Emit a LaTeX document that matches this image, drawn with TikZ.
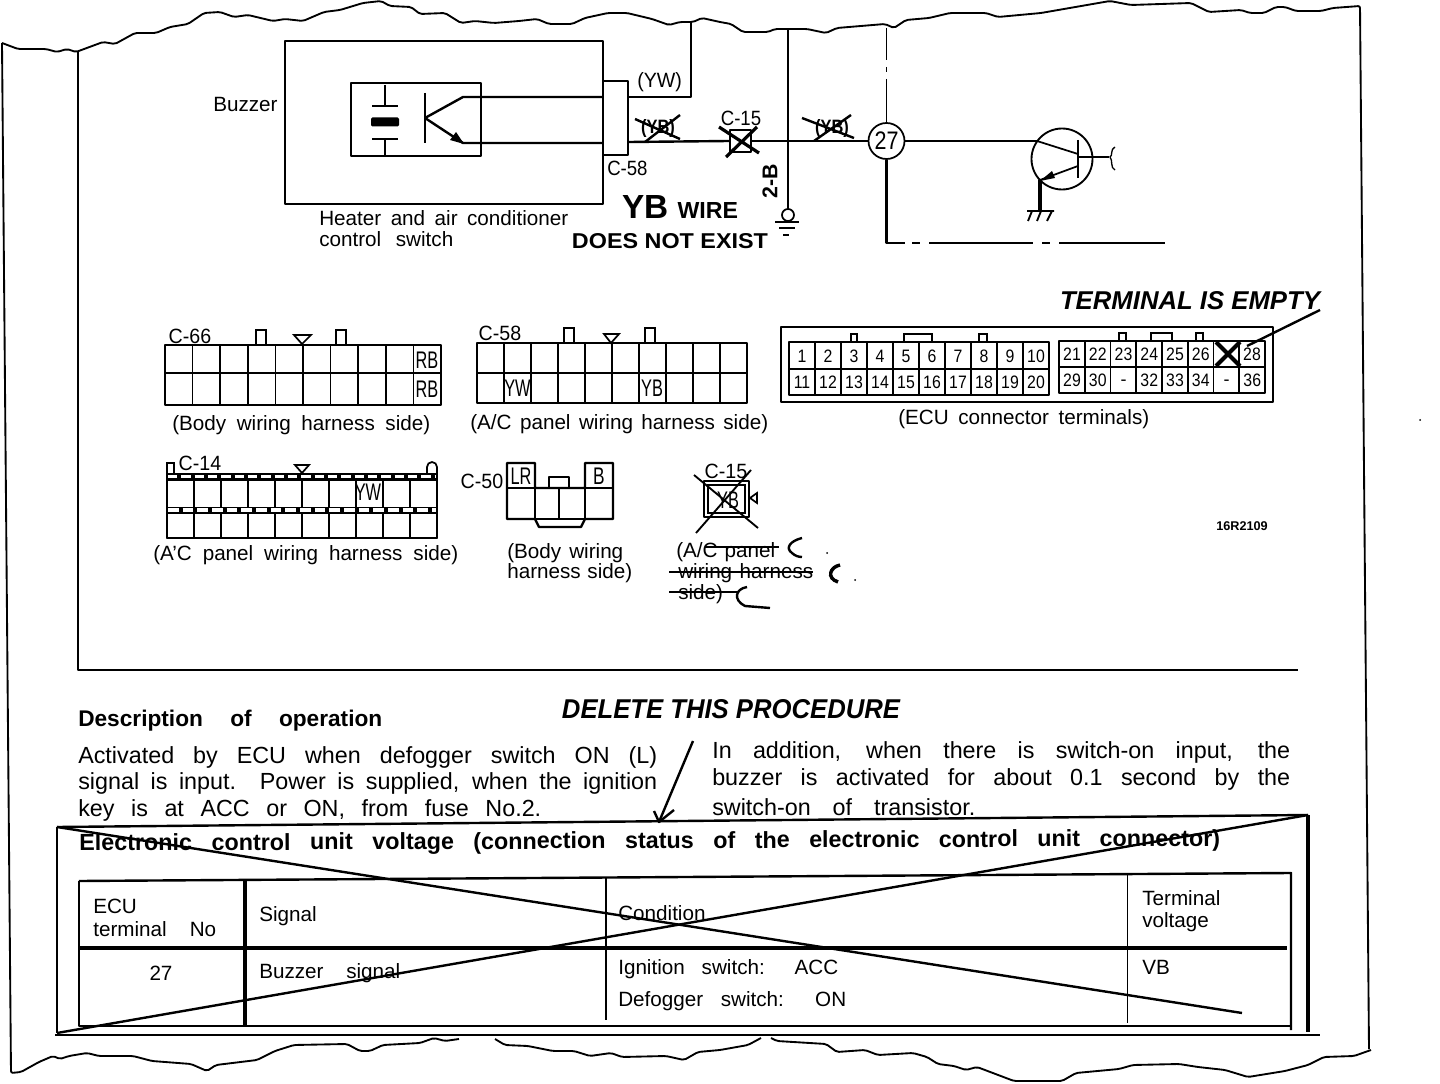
\documentclass[tikz,border=0pt]{standalone}
\usepackage{fontspec}
\usepackage{graphicx}
\setmainfont{Liberation Sans}
\newlength\pxu \setlength\pxu{.75pt}
\newcommand\fw[2]{\makebox[#1\pxu][s]{#2}}
\newcommand\hw[3]{\resizebox{#1\pxu}{#2\pxu}{#3}}
\newcommand\cond[2]{\scalebox{#1}[1]{#2}}
\newcommand\connbox[6]{%
  \draw[wire] (#1,#2) rectangle (#3,#4);
  \draw[wire] (#1,#5) -- (#3,#5);
  \foreach \i in {1,...,#6}{\pgfmathsetmacro\xx{#1+(#3-#1)*\i/#6}\draw[thinw] (\xx,#2) -- (\xx,#4);}%
}
\tikzset{
  wire/.style={line width=1.8pt,line join=round},
  thinw/.style={line width=1.3pt},
  thick wire/.style={line width=2.4pt},
  edge line/.style={line width=1.4pt,rounded corners=1.5pt},
  lab/.style={inner sep=0pt,anchor=west,yshift=-1.2pt,font=\fontsize{15.5}{17}\selectfont},
  labc/.style={inner sep=0pt,anchor=center,yshift=-1pt,font=\fontsize{15.5}{17}\selectfont},
  body/.style={inner sep=0pt,anchor=west,yshift=-1.5pt,font=\fontsize{17.5}{19}\selectfont},
  headb/.style={inner sep=0pt,anchor=west,yshift=-1.5pt,font=\fontsize{17}{19}\selectfont\bfseries},
  pin/.style={inner sep=0pt,anchor=center,font=\fontsize{18}{20}\selectfont},
  ecu/.style={inner sep=0pt,anchor=center,font=\fontsize{13.5}{14}\selectfont},
  hand/.style={inner sep=0pt,anchor=center,font=\bfseries},
  tabpin/.style={line width=1.3pt,fill=white},
}
\begin{document}
\begin{tikzpicture}[x=.75pt,y=-.75pt]
\useasboundingbox (0,0) rectangle (1440,1084);
\fill[white] (0,0) rectangle (1440,1084);
% paper edges
\draw[edge line] (2,43)--(18,49)--(46,49)--(57,52)--(67,49)--(76,52)--(103,42)--(115,44)--(135,33)--(156,33)--(170,27)--(188,24)--(204,13)--(220,12)--(234,17)--(248,15)--(273,21)--(285,19)--(303,21)--(324,12)--(340,10)--(363,3)--(381,1)--(390,6)--(411,7)--(420,14)--(445,13)--(461,23)--(475,21)--(494,23)--(519,21)--(537,19)--(549,24)--(572,24)--(585,18)--(608,13)--(627,13)--(652,19)--(669,25)--(680,22)--(693,22)--(702,18)--(720,22)--(731,24)--(743,32)--(768,32)--(775,29)--(807,29)--(826,33)--(837,28)--(885,24)--(894,28)--(906,20)--(929,18)--(950,13)--(986,13)--(998,17)--(1041,13)--(1087,5)--(1110,1)--(1131,5)--(1191,3)--(1209,12)--(1241,10)--(1250,13)--(1264,13)--(1276,7)--(1285,7)--(1296,11)--(1321,11)--(1333,8)--(1360,6)--(1369,1049);
\draw[edge line] (2,43)--(11,1073)--(21,1072)--(39,1062)--(53,1056)--(60,1059)--(69,1056)--(87,1053)--(99,1056)--(133,1056)--(152,1061)--(191,1064)--(207,1071)--(216,1065)--(257,1060)--(275,1051)--(294,1045)--(347,1044)--(360,1051)--(370,1051)--(383,1045)--(420,1043)--(434,1038)--(445,1041)--(459,1039);
\draw[edge line] (495,1039)--(505,1045)--(528,1046)--(553,1051)--(574,1051)--(590,1056)--(611,1053)--(622,1057)--(666,1056)--(684,1060)--(698,1052)--(720,1050)--(748,1045)--(761,1038);
\draw[edge line] (771,1038)--(777,1041)--(826,1044)--(837,1052)--(865,1050)--(878,1055)--(913,1053)--(927,1057)--(938,1064)--(954,1066)--(966,1070)--(977,1067)--(1014,1081)--(1062,1081)--(1076,1073)--(1119,1069)--(1133,1065)--(1179,1064)--(1198,1067)--(1225,1070)--(1248,1077)--(1285,1071)--(1308,1065)--(1324,1057)--(1354,1056)--(1371,1050);
\draw[wire] (78,52)--(78,670)--(1298,670);

% Heater box and buzzer
\node[draw,wire,minimum width=318\pxu,minimum height=163\pxu,inner sep=0pt] (heater) at (444,122.5) {};
\node[draw,wire,minimum width=130\pxu,minimum height=73\pxu,inner sep=0pt] (buzz) at (416,119.5) {};
\node[draw,wire,fill=white,minimum width=25\pxu,minimum height=74\pxu,inner sep=0pt] (c58) at (615.5,118) {};
\node[lab] (buzzerlab) at (213,103) {Buzzer};
\node[lab] (heat1) at (319,217) {\fw{249}{Heater and air conditioner}};
\node[lab] (heat2) at (319,238) {\fw{134}{control switch}};
\node[lab] (c58lab) at (607,167) {\cond{.9}{C-58}};
\node[lab] (ywlab) at (637,81) {\cond{.95}{(YW)}};
\node[labc] (c15lab) at (741,117) {\cond{.9}{C-15}};
\node[labc,rotate=90,font=\fontsize{16}{16}\selectfont\bfseries] (twob) at (770,180) {\cond{1}{2-B}};
% capacitor
\draw[wire] (385,85)--(385,106) (372,106)--(398,106) (372,139)--(398,139) (385,139)--(385,155);
\fill[rounded corners=1pt] (371,117.5) rectangle (399,126.5);
% switch element
\draw[wire] (425,93)--(425,143);
\draw[wire] (425,118)--(463,97)--(603,97);
\draw[wire] (425,118)--(463,143)--(603,143);
\fill (464,144)--(450,140)--(456,132)--cycle;
% wires
\coordinate (topyw) at (691,22);
\coordinate (topv) at (788,29);
\draw[wire] (c58.east |- 0,97)--(691,97)--(topyw);
\draw[wire] (topv)--(788,209);
\node[draw,line width=1.3pt,circle,inner sep=0pt,minimum size=12\pxu] (gnd) at (788,215) {};
\draw[wire] (775,222)--(799,222) (779,228)--(795,228) (783,235)--(789,235);
% C-15 inline
\node[draw,wire,fill=white,minimum width=21\pxu,minimum height=22\pxu,inner sep=0pt] (c15) at (740.5,141) {};
\node[draw,line width=1.3pt,circle,fill=white,inner sep=0pt,minimum size=36\pxu,font=\fontsize{19}{20}\selectfont] (n27) at (886.5,141) {\cond{.85}{27}};
\draw[wire] (c58.east |- 0,142)--(c15.west);
\draw[wire] (c15.east)--(n27.west);
\draw[thick wire] (719,127)--(759,153) (757,127)--(726,157);
% crossed-out YB
\node[labc,font=\fontsize{14.5}{16}\selectfont\bfseries] (yb1) at (658,127) {\cond{.85}{(YB)}};
\draw[wire] (635,119)--(680,139) (680,115)--(645,142);
\node[labc,font=\fontsize{14.5}{16}\selectfont\bfseries] (yb2) at (832,127) {\cond{.85}{(YB)}};
\draw[wire] (802,118)--(854,138) (851,115)--(814,141);
% node 27 verticals
\coordinate (topn) at (886.5,28);
\draw[line width=1.4pt] (topn)--(886.5,60) (886.5,67)--(886.5,72) (886.5,79)--(n27.north);
\draw[wire] (n27.south)--(886.5,243)--(905,243);
\draw[wire] (912,243)--(920,243);
\draw[wire] (929,243)--(1033,243);
\draw[wire] (1042,243)--(1050,243);
\draw[line width=1.3pt] (1059,243)--(1165,243);
% transistor
\node[draw,line width=1.4pt,circle,minimum size=61\pxu,inner sep=0pt] (tr) at (1062,159) {};
\draw[wire] (n27.east)--(1037,141);
\draw[line width=1.3pt] (1037,141)--(1078,154);
\draw[wire] (1078,140)--(1078,178);
\draw[wire] (1078,157)--(1109,157);
\draw[line width=1pt] (1115,147) .. controls (1110,149) and (1113,156) .. (1110,157) .. controls (1113,160) and (1110,168) .. (1115,170);
\draw[line width=1.3pt] (1078,166)--(1040,180);
\fill (1040,181)--(1052,171)--(1055,178)--cycle;
\draw[thick wire] (1040,180)--(1040,210);
\draw[line width=1.4pt] (1027,211)--(1054,211) (1032,211)--(1028,221) (1041,211)--(1037,221) (1052,211)--(1047,221);
% handwritten notes
\node[hand] (ybwire) at (680,207) {\hw{116}{23}{\Large YB \normalsize WIRE}};
\node[hand] (dne) at (670,241) {\hw{196}{15}{DOES NOT EXIST}};
\node[hand,font=\itshape\bfseries] (termempty) at (1190,301) {\hw{260}{18}{TERMINAL IS EMPTY}};
\node[hand,font=\itshape\bfseries] (delproc) at (731,709) {\hw{338}{19}{DELETE THIS PROCEDURE}};
\coordinate (tipA) at (1320,310);
\coordinate (tipB) at (1247,346);
\draw[wire] (tipA)--(tipB);

% C-66
\draw[tabpin] (256,345)--(256,330)--(266,330)--(266,345);
\draw[tabpin] (336,345)--(336,330)--(346,330)--(346,345);
\draw[tabpin] (294,335)--(311,335)--(302,344)--cycle;
\connbox{165}{345}{441}{405}{373}{10}
\node[pin] (rb1) at (427,360) {\cond{.68}{RB}};
\node[pin] (rb2) at (427,389) {\cond{.68}{RB}};
\node[labc] (c66) at (190,335) {\cond{.95}{C-66}};
\node[lab] (c66cap) at (172,424) {\fw{258}{(Body wiring harness side)}};
% C-58
\draw[tabpin] (564,343)--(564,328)--(574,328)--(574,343);
\draw[tabpin] (645,343)--(645,328)--(655,328)--(655,343);
\draw[tabpin] (604,334)--(619,334)--(611,343)--cycle;
\connbox{477}{343}{747}{403}{373}{10}
\node[pin] (yw58) at (517.5,388) {\cond{.68}{YW}};
\node[pin] (yb58) at (652,388) {\cond{.68}{YB}};
\node[labc] (c58top) at (500,332) {\cond{.95}{C-58}};
\node[lab] (c58cap) at (470,423) {\fw{298}{(A/C panel wiring harness side)}};
% ECU connector
\node[draw,wire,minimum width=492\pxu,minimum height=75\pxu,inner sep=0pt] (ecubox) at (1027,364.5) {};
\draw[tabpin] (851,342)--(851,334)--(857,334)--(857,342);
\draw[tabpin] (904,342)--(904,334)--(932,334)--(932,342);
\draw[tabpin] (979,342)--(979,334)--(987,334)--(987,342);
\draw[tabpin] (1119,341)--(1119,333)--(1126,333)--(1126,341);
\draw[tabpin] (1151,341)--(1151,333)--(1172,333)--(1172,341);
\draw[tabpin] (1196,341)--(1196,333)--(1203,333)--(1203,341);
\connbox{789}{342}{1049}{395}{369}{10}
\connbox{1059}{341}{1265}{393}{367}{8}
\foreach \n [count=\i from 0] in {1,...,10}{\node[ecu] (ea\n) at (802+26*\i,356) {\cond{.88}{\n}};}
\foreach \n [count=\i from 0] in {11,...,20}{\node[ecu] (eb\n) at (802+26*\i,382) {\cond{.88}{\n}};}
\foreach \n [count=\i from 0] in {21,22,23,24,25,26}{\node[ecu] (ec\n) at (1072+25.75*\i,354) {\cond{.88}{\n}};}
\node[ecu] (ec28) at (1252,354) {\cond{.88}{28}};
\foreach \n/\i in {29/0,30/1,32/3,33/4,34/5,36/7}{\node[ecu] (ed\i) at (1072+25.75*\i,380) {\cond{.88}{\n}};}
\foreach \i in {2,6}{\node[ecu] (ed\i) at (1072+25.75*\i,383) {-};}
\draw[line width=3pt] (1216,342)--(1240,366) (1240,342)--(1216,366);
\node[lab] (ecucap) at (898,418) {\fw{251}{(ECU connector terminals)}};
\node[inner sep=0pt,anchor=center,font=\fontsize{9.5}{10}\selectfont\bfseries] (code) at (1242,526) {16R2109};

% C-14
\draw[tabpin] (167,477)--(167,463)--(174,463)--(174,474);
\draw[tabpin] (427,474)--(427,467) arc (180:360:5) --(437,477);
\draw[tabpin] (295,465)--(309,465)--(302,473)--cycle;
\connbox{167}{477}{437}{538}{510}{10}
\draw[line width=7\pxu] (167,477)--(437,477) (167,510)--(437,510);
\draw[line width=3\pxu,white,dash pattern=on 7pt off 3pt] (168,477)--(437,477);
\draw[line width=3.4\pxu,white,dash pattern=on 8pt off 3pt] (168,510)--(437,510);
\draw[wire] (167,474)--(167,538)--(437,538)--(437,474);
\node[pin] (yw14) at (368,492) {\cond{.68}{YW}};
\node[labc] (c14) at (200,462) {\cond{.95}{C-14}};
\node[lab] (c14cap) at (153,554) {\fw{305}{(A'C panel wiring harness side)}};
% C-50
\draw[wire] (507,463)--(535,463)--(535,488)--(585,488)--(585,463)--(613,463)--(613,519)--(585,519)--(581,527)--(539,527)--(535,519)--(507,519)--cycle;
\draw[wire] (507,488)--(535,488) (585,488)--(613,488) (535,488)--(535,519)--(585,519)--(585,488) (559,488)--(559,519);
\draw[wire] (549,488)--(549,477)--(569,477)--(569,488);
\node[pin] (lr) at (521,476) {\cond{.68}{LR}};
\node[pin] (bb) at (599,476) {\cond{.72}{B}};
\node[labc] (c50) at (482,480) {\cond{.95}{C-50}};
\node[lab] (c50c1) at (507,552) {\fw{116}{(Body wiring}};
\node[lab] (c50c2) at (507,572) {\fw{125}{harness side)}};
% C-15 connector
\node[draw,wire,minimum width=45\pxu,minimum height=36\pxu,inner sep=0pt] (c15b) at (726.5,499) {};
\node[draw,line width=1.2pt,minimum width=37\pxu,minimum height=28\pxu,inner sep=0pt] (c15i) at (726.5,499) {};
\node[pin] (yb15) at (728,500) {\cond{.68}{YB}};
\draw[line width=1.4pt] (694,475)--(758,528) (751,470)--(696,533);
\draw[tabpin] (757,493)--(757,503)--(750,498)--cycle;
\node[labc] (c15t) at (726,470) {\cond{.95}{C-15}};
\node[lab] (c15c1) at (676,551) {\fw{99}{(A/C panel}};
\node[lab] (c15c2) at (678,572) {\fw{135}{wiring harness}};
\node[lab] (c15c3) at (678,593) {side)};
\draw[wire] (705,547)--(779,547);
\draw[wire] (669,572)--(813,572);
\draw[wire] (669,592)--(738,592);
\draw[wire] (802,538) .. controls (790,541) and (785,548) .. (792,553) .. controls (795,556) and (799,557) .. (802,557);
\draw[line width=2.6pt] (840,565) .. controls (830,567) and (826,578) .. (838,582);
\draw[wire] (747,587) .. controls (735,589) and (733,600) .. (745,606) -- (770,608);
\fill (827,553) circle (1) (855,580) circle (1);

% Description
\node[headb] (desc) at (78,719) {\fw{304}{Description of operation}};
\node[body] (d1) at (78,755) {\fw{579}{Activated by ECU when defogger switch ON (L)}};
\node[body] (d2) at (78,781) {\fw{579}{signal is input. Power is supplied, when the ignition}};
\node[body] (d3) at (78,808) {\fw{463}{key is at ACC or ON, from fuse No.2.}};
\node[body] (r1) at (712,750) {\fw{578}{In addition, when there is switch-on input, the}};
\node[body] (r2) at (712,777) {\fw{578}{buzzer is activated for about 0.1 second by the}};
\node[body] (r3) at (712,805) {\fw{263}{switch-on of transistor.}};
% arrow delete
\coordinate (arrS) at (693,741);
\coordinate (arrE) at (659,822);
\draw[wire] (arrS)--(arrE);
\draw[wire] (654,811)--(659,822)--(674,810);

% Table frame
\coordinate (fTL) at (57,827);
\coordinate (fTR) at (1308,815);
\coordinate (fBL) at (57,1033);
\coordinate (fXE) at (1242,1013);
\draw[wire] (fTL)--(fTR);
\draw[wire] (fTL)--(fBL);
\draw[thick wire] (fTR)--(1308,1032);
\draw[wire] (55,1035)--(1320,1035);
\draw[wire] (fTL)--(fXE);
\draw[wire] (fBL)--(fTR);
\node[inner sep=0pt,anchor=west,rotate=.25,font=\fontsize{17.5}{19}\selectfont\bfseries] (etitle) at (79,845) {\fw{1141}{Electronic control unit voltage (connection status of the electronic control unit connector)}};
% table
\draw[wire] (79,881)--(1291,873)--(1291,1030);
\draw[wire] (79,881)--(79,1026)--(1291,1026);
\draw[thick wire] (79,948)--(1287,948);
\draw[thick wire] (245,880)--(245,1026);
\draw[wire] (606,878)--(606,1020);
\draw[line width=1.3pt] (1127.5,874)--(1127.5,1023);
\node[lab] (t1) at (93,905) {ECU};
\node[lab] (t2) at (93,928) {\fw{123}{terminal No}};
\node[lab] (t3) at (259,915) {Signal};
\node[lab] (t4) at (618,912) {\fw{96}{Condition}};
\node[lab] (t5) at (1142,897) {\fw{86}{Terminal}};
\node[lab] (t6) at (1142,921) {\fw{72}{voltage}};
\node[labc] (t7) at (161,972) {27};
\node[lab] (t8) at (259,972) {\fw{141}{Buzzer signal}};
\node[lab] (t9) at (618,968) {\fw{220}{Ignition switch: ACC}};
\node[lab] (t10) at (618,1000) {\fw{228}{Defogger switch: ON}};
\node[lab] (t11) at (1142,966) {VB};
\fill (1420,420) circle (1);
\end{tikzpicture}
\end{document}
